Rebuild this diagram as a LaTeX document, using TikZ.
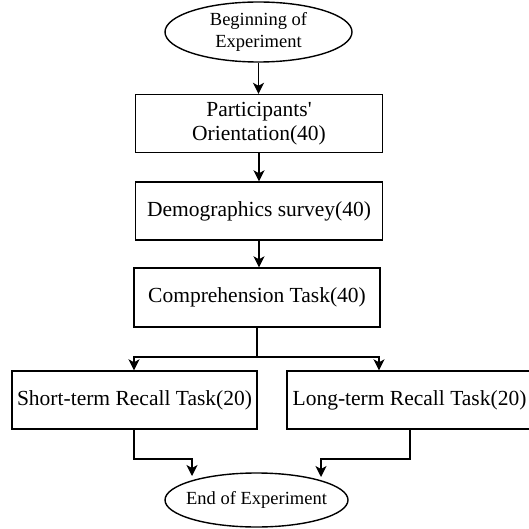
\documentclass[tikz,border=0pt]{standalone}
\usepackage{fontspec}
\setmainfont{Liberation Serif}[Ligatures=TeXOff]
\usetikzlibrary{shapes.geometric,arrows.meta}
\begin{document}
\begin{tikzpicture}[x=1pt,y=-1pt,
  every node/.style={font=\fontsize{21.5}{24.5}\selectfont, inner sep=0pt},
  boxnode/.style={draw, line width=1.4pt, minimum height=58pt, align=center},
  ovalnode/.style={draw, ellipse, line width=1.4pt},
  ovaltext/.style={font=\fontsize{18.5}{22.5}\selectfont, align=center},
  flow/.style={line width=1.4pt, -{Stealth[length=11pt,width=11pt,inset=3pt]}},
  plain/.style={line width=1.4pt}]
\useasboundingbox (0,0) rectangle (528,529);
\node[ovalnode, minimum width=187pt, minimum height=60pt] (begin) at (258.5,32) {};
\node[ovaltext] (begintext) at (begin) {Beginning of\\Experiment};
\node[boxnode, minimum width=247pt] (orient) at (259,123.5) {Participants'\\Orientation(40)};
\node[boxnode, minimum width=247pt] (demo) at (259,211) {Demographics survey(40)};
\node[boxnode, minimum width=246pt, minimum height=59pt] (comp) at (257,297.5) {Comprehension Task(40)};
\node[boxnode, minimum width=245pt] (short) at (134.5,400) {Short-term Recall Task(20)};
\node[boxnode, minimum width=248pt] (long) at (411,400) {};
\node (longtext) at (409.5,400) {Long-term Recall Task(20)};
\node[ovalnode, minimum width=183pt, minimum height=54pt] (end) at (256.5,500) {};
\node[ovaltext] (endtext) at (end) {End of Experiment};
\coordinate (split) at (257,357);
\draw[flow] (begin) -- (begin |- orient.north);
\draw[flow] (orient) -- (orient |- demo.north);
\draw[flow] (demo) -- (demo |- comp.north);
\draw[plain] (comp.south -| split) -- (split);
\draw[flow] (split) -- (134,357) -- (short.north -| 134,0);
\draw[flow] (split) -- (379,357) -- (long.north -| 379,0);
\draw[flow] (short.south -| 134,0) -- (134,459) -- (192,459) -- (192,476);
\draw[flow] (long.south -| 410,0) -- (410,459) -- (321,459) -- (321,477);
\end{tikzpicture}
\end{document}
